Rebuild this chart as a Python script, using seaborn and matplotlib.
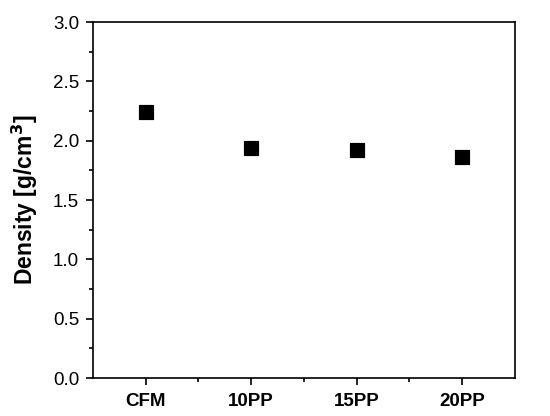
import pandas as pd
import matplotlib.pyplot as plt
import seaborn as sns
from matplotlib.ticker import MultipleLocator

# data
samples = ["CFM", "10PP", "15PP", "20PP"]
density = [2.24, 1.94, 1.92, 1.86]
density_err = [0.04, 0.03, 0.02, 0.02]

df = pd.DataFrame({"sample": samples, "density": density, "err": density_err})

sns.set_style("ticks", {"axes.edgecolor": "black", "text.color": "black",
                        "xtick.color": "black", "ytick.color": "black",
                        "axes.labelcolor": "black"})
plt.rcParams["font.family"] = ["Liberation Sans", "DejaVu Sans"]

fig = plt.figure(figsize=(5.5, 4.16), dpi=100)
ax = fig.add_axes([0.169, 0.091, 0.767, 0.856])

# error bars first, then the square markers on top
ax.errorbar(df["sample"], df["density"], yerr=df["err"], fmt="none",
            ecolor="black", elinewidth=1, capsize=3, zorder=2)
sns.scatterplot(data=df, x="sample", y="density", marker="s", s=115,
                color="black", edgecolor="black", ax=ax, zorder=3)

ax.set_xlim(-0.5, 3.5)
ax.set_ylim(0, 3.0)
ax.yaxis.set_major_locator(MultipleLocator(0.5))
ax.yaxis.set_minor_locator(MultipleLocator(0.25))
ax.set_xticks(range(len(samples)))
ax.set_xticks([0.5, 1.5, 2.5], minor=True)
ax.set_xticklabels(samples, fontweight="bold", fontsize=13.5)
ax.tick_params(axis="y", labelsize=13.5, pad=5)
ax.tick_params(axis="x", pad=6)
ax.tick_params(which="major", direction="out", length=5, width=1.2)
ax.tick_params(which="minor", direction="out", length=3, width=1.2)

ax.set_xlabel("")
ax.set_ylabel("Density [g/cm$^\\mathbf{3}$]", fontsize=16.5, fontweight="bold",
              labelpad=9)

for sp in ax.spines.values():
    sp.set_visible(True)
    sp.set_linewidth(1.2)

fig.savefig("out.png", dpi=100)
